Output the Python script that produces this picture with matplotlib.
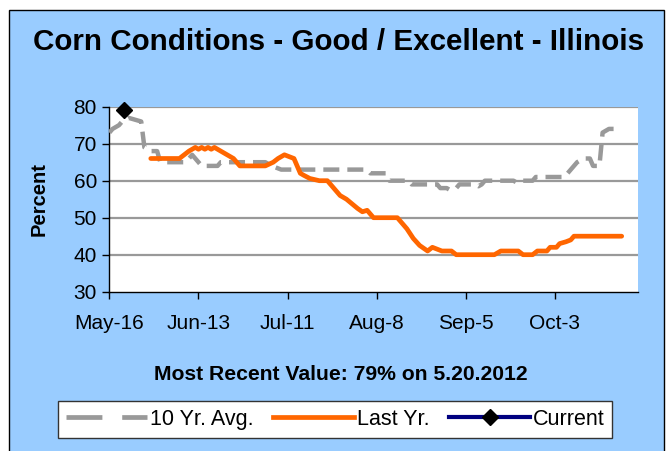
import matplotlib
matplotlib.use("Agg")
import matplotlib.pyplot as plt
from matplotlib.patches import Rectangle
from matplotlib.lines import Line2D

plt.rcParams['font.family'] = ['Liberation Sans', 'DejaVu Sans']

# ---- data (x = days after May-16) ----
tick_days = [0, 28, 56, 84, 112, 140]
tick_labels = ["May-16", "Jun-13", "Jul-11", "Aug-8", "Sep-5", "Oct-3"]

avg_days = [0, 1, 3, 4, 6, 10, 11, 13, 15, 16, 24, 26, 29, 34, 35, 49, 51, 54,
            81, 82, 87, 88, 94, 95, 103, 104, 106, 107, 109, 110, 115, 116, 117,
            118, 127, 128, 129, 133, 134, 143, 146, 147, 149, 151, 152, 154, 155, 157, 160]
avg_vals = [73, 74, 75, 76, 77, 76, 69, 68, 68, 65, 65, 67, 64, 64, 65, 65, 64, 63,
            63, 62, 62, 60, 60, 59, 59, 58, 58, 57.5, 58, 59, 59, 58.5, 59,
            60, 60, 59.5, 60, 60, 61, 61, 64, 65, 66, 66, 64, 64, 73, 74, 74]

last_days = [13, 22, 23.5, 25, 27, 28, 29, 30, 31, 32, 33, 35, 37, 39, 41, 49, 51.5,
             53, 55, 56.5, 58, 60, 61, 63, 66, 68.5, 69.5, 72.5, 74.5, 78, 79.5, 81,
             82, 83, 90.5, 92, 93.5, 95.5, 97.5, 100, 101.5, 103, 104.5, 107.5, 109,
             121, 123, 128.5, 130, 133, 134.5, 137.5, 138.5, 140.5, 141.5, 143.5,
             145, 146, 161]
last_vals = [66, 66, 67, 68, 69, 68.5, 69, 68.5, 69, 68.5, 69, 68, 67, 66, 64, 64, 65,
             66, 67, 66.5, 66, 62, 61.5, 60.6, 60, 60, 59, 56, 55, 52.5, 51.6, 52,
             51, 50, 50, 48.5, 47, 44.4, 42.5, 41, 42, 41.5, 41, 41, 40,
             40, 41, 41, 40, 40, 41, 41, 42, 42, 43, 43.5,
             44, 45, 45]

cur_days = [4.5]
cur_vals = [79]

BLUE = "#99CCFF"
GRAY = "#999999"
ORANGE = "#FF6600"
NAVY = "#000080"

fig = plt.figure(figsize=(6.7, 4.51), dpi=100)
fig.patch.set_facecolor("white")
fig.patches.append(Rectangle((9 / 670, -0.05), 655 / 670, 1 - 10 / 451 + 0.05,
                             transform=fig.transFigure, facecolor=BLUE,
                             edgecolor="black", linewidth=1.0, zorder=-5))

ax = fig.add_axes([109.4 / 670, 1 - 291.7 / 451, (637.6 - 109.4) / 670, (291.7 - 106.7) / 451])
ax.set_zorder(2)
ax.set_facecolor("white")
ax.set_xlim(0, 166)
ax.set_ylim(30, 80)
ax.set_yticks([30, 40, 50, 60, 70, 80])
ax.set_xticks(tick_days)
ax.set_xticklabels(tick_labels)
for yv in [40, 50, 60, 70, 80]:
    ax.axhline(yv, color=GRAY, lw=1.6, zorder=1)
for s in ["top", "right"]:
    ax.spines[s].set_visible(False)
for s in ["left", "bottom"]:
    ax.spines[s].set_color("black")
    ax.spines[s].set_linewidth(1.0)
ax.tick_params(axis="both", direction="out", length=5, width=1, colors="black",
               labelsize=15)
ax.tick_params(axis="x", pad=11)
ax.tick_params(axis="y", pad=4)

ax.plot(avg_days, avg_vals, color=GRAY, lw=3.2, dashes=(3.6, 1.8),
        solid_capstyle="butt", dash_capstyle="butt", zorder=3)
ax.plot(last_days, last_vals, color=ORANGE, lw=3.4, solid_capstyle="round",
        solid_joinstyle="round", zorder=4)
ax.plot(cur_days, cur_vals, color=NAVY, lw=3, marker="D", markersize=8,
        markerfacecolor="black", markeredgecolor="black", zorder=5, clip_on=False)

ax.set_ylabel("Percent", fontsize=14.5, fontweight="bold")
ax.yaxis.set_label_coords((49 - 109.4) / 528.2, 0.5)

fig.text(339 / 670, 1 - 42 / 451, "Corn Conditions - Good / Excellent - Illinois",
         ha="center", va="center", fontsize=21.3, fontweight="bold")
fig.text(341 / 670, 1 - 375 / 451, "Most Recent Value: 79% on 5.20.2012",
         ha="center", va="center", fontsize=15.2, fontweight="bold")

handles = [
    Line2D([], [], color=GRAY, lw=3.4, dashes=(7.6, 4.2), dash_capstyle="butt"),
    Line2D([], [], color=ORANGE, lw=3.4),
    Line2D([], [], color=NAVY, lw=3, marker="D", markersize=8,
           markerfacecolor="black", markeredgecolor="black"),
]
leg = fig.legend(handles, ["10 Yr. Avg.", "Last Yr.", "Current"], ncol=3,
                 loc="center", bbox_to_anchor=(335 / 670, 1 - 419.5 / 451),
                 fontsize=15.5, frameon=True, fancybox=False, framealpha=1,
                 handlelength=3.8, handletextpad=0.1, columnspacing=0.9,
                 borderpad=0.35, borderaxespad=0)
leg.get_frame().set_edgecolor("#333333")
leg.get_frame().set_linewidth(1.0)
leg.get_frame().set_facecolor("white")

fig.savefig("out.png", dpi=100, facecolor=fig.get_facecolor())
